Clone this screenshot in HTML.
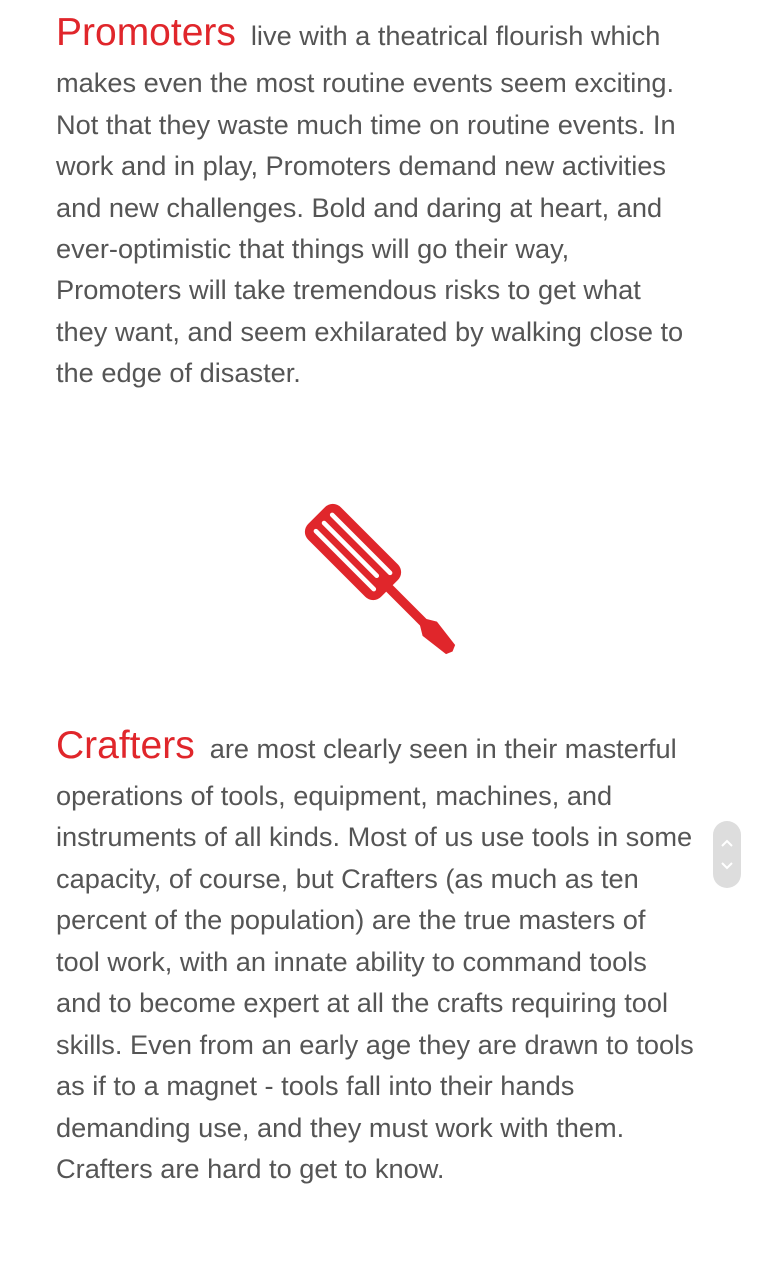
<!DOCTYPE html>
<html><head><meta charset="utf-8"><style>
html,body{margin:0;padding:0;background:#fff;width:759px;height:1280px;overflow:hidden;position:relative}
.l{position:absolute;left:56px;white-space:nowrap;font-family:"Liberation Sans",sans-serif;font-size:27.2px;color:#555;line-height:30px}
.h{color:#e0262b;font-size:39px;margin-right:15px}
</style></head><body>
<div>
<div class="l" style="top:18px"><span class="h">Promoters</span>live with a theatrical flourish which</div>
<div class="l" style="top:68px">makes even the most routine events seem exciting.</div>
<div class="l" style="top:110px">Not that they waste much time on routine events. In</div>
<div class="l" style="top:151px">work and in play, Promoters demand new activities</div>
<div class="l" style="top:193px">and new challenges. Bold and daring at heart, and</div>
<div class="l" style="top:234px">ever-optimistic that things will go their way,</div>
<div class="l" style="top:275px">Promoters will take tremendous risks to get what</div>
<div class="l" style="top:317px">they want, and seem exhilarated by walking close to</div>
<div class="l" style="top:358px">the edge of disaster.</div>
</div>
<svg style="position:absolute;left:0;top:0" width="759" height="1280">
<g transform="translate(353,552) rotate(45) scale(0.92)" fill="#e0262b">
<rect x="-56" y="-25" width="112" height="50" rx="12"/>
<rect x="50" y="-5" width="62" height="10"/>
<polygon points="108,-5 118,-11 150,-7 153,0 150,7 118,11 108,5"/>
<g fill="#fff">
<rect x="-47" y="-15" width="94" height="5" rx="2.5"/>
<rect x="-47" y="-2.5" width="86" height="5" rx="2.5"/>
<rect x="-47" y="10" width="94" height="5" rx="2.5"/>
</g>
</g>
</svg>
<div>
<div class="l" style="top:731px"><span class="h">Crafters</span>are most clearly seen in their masterful</div>
<div class="l" style="top:781px">operations of tools, equipment, machines, and</div>
<div class="l" style="top:822px">instruments of all kinds. Most of us use tools in some</div>
<div class="l" style="top:864px">capacity, of course, but Crafters (as much as ten</div>
<div class="l" style="top:905px">percent of the population) are the true masters of</div>
<div class="l" style="top:947px">tool work, with an innate ability to command tools</div>
<div class="l" style="top:988px">and to become expert at all the crafts requiring tool</div>
<div class="l" style="top:1030px">skills. Even from an early age they are drawn to tools</div>
<div class="l" style="top:1071px">as if to a magnet - tools fall into their hands</div>
<div class="l" style="top:1113px">demanding use, and they must work with them.</div>
<div class="l" style="top:1154px">Crafters are hard to get to know.</div>
</div>
<div style="position:absolute;left:713px;top:821px;width:28px;height:67px;border-radius:14px;background:#ddd">
<svg width="28" height="67">
<polyline points="9,25 14,20 19,25" fill="none" stroke="#fff" stroke-width="2"/>
<polyline points="9,42 14,47 19,42" fill="none" stroke="#fff" stroke-width="2"/>
</svg>
</div>
</body></html>
